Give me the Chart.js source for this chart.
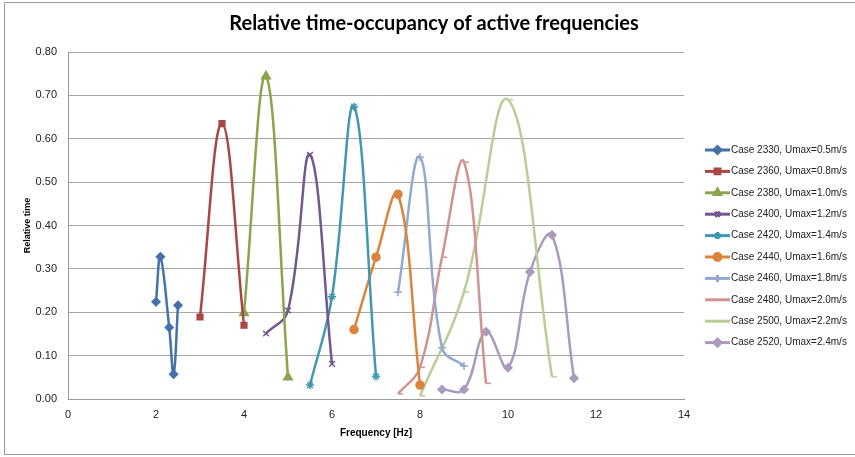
<!DOCTYPE html>
<html>
<head>
<meta charset="utf-8">
<script src="https://cdn.jsdelivr.net/npm/chart.js@4"></script>
<style>
  html, body { margin: 0; padding: 0; background: #fff; }
  #wrap { width: 855px; height: 457px; position: relative; }
</style>
</head>
<body>
<div id="wrap"><canvas id="chart" width="855" height="457"></canvas></div>
<script>
const chartTitle = "Relative time-occupancy of active frequencies";

// series labels, colours and markers
const caseLabels = [
  "Case 2330, Umax=0.5m/s", "Case 2360, Umax=0.8m/s", "Case 2380, Umax=1.0m/s",
  "Case 2400, Umax=1.2m/s", "Case 2420, Umax=1.4m/s", "Case 2440, Umax=1.6m/s",
  "Case 2460, Umax=1.8m/s", "Case 2480, Umax=2.0m/s", "Case 2500, Umax=2.2m/s",
  "Case 2520, Umax=2.4m/s"
];
const caseColors = ["#4572A7", "#AA4643", "#89A54E", "#71588F", "#4198AF",
  "#DB843D", "#93A9CF", "#D19392", "#B9CD96", "#A99BBD"];
const caseMarkers = ["rectRot", "rect", "triangle", "crossRot", "star",
  "circle", "cross", "dash", "dash", "rectRot"];

// frequency [Hz] and relative time for each case
const freq2330 = [2.0, 2.1, 2.3, 2.4, 2.5];
const time2330 = [0.224, 0.328, 0.165, 0.057, 0.216];
const freq2360 = [3.0, 3.5, 4.0];
const time2360 = [0.189, 0.635, 0.170];
const freq2380 = [4.0, 4.5, 5.0];
const time2380 = [0.198, 0.744, 0.050];
const freq2400 = [4.5, 5.0, 5.5, 6.0];
const time2400 = [0.151, 0.204, 0.563, 0.081];
const freq2420 = [5.5, 6.0, 6.5, 7.0];
const time2420 = [0.032, 0.236, 0.674, 0.052];
const freq2440 = [6.5, 7.0, 7.5, 8.0];
const time2440 = [0.160, 0.327, 0.472, 0.032];
const freq2460 = [7.5, 8.0, 8.5, 9.0];
const time2460 = [0.246, 0.558, 0.118, 0.076];
const freq2480 = [7.5, 8.0, 8.5, 9.0, 9.5];
const time2480 = [0.012, 0.073, 0.327, 0.546, 0.036];
const freq2500 = [8.0, 9.0, 10.0, 11.0];
const time2500 = [0.007, 0.247, 0.690, 0.051];
const freq2520 = [8.5, 9.0, 9.5, 10.0, 10.5, 11.0, 11.5];
const time2520 = [0.022, 0.022, 0.155, 0.072, 0.293, 0.378, 0.048];

const allFreq = [freq2330, freq2360, freq2380, freq2400, freq2420, freq2440, freq2460, freq2480, freq2500, freq2520];
const allTime = [time2330, time2360, time2380, time2400, time2420, time2440, time2460, time2480, time2500, time2520];

const markerSize = [4, 4, 5, 4, 4, 4, 4, 5, 5, 4];

const datasets = caseLabels.map((label, i) => ({
  label: label,
  data: allFreq[i].map((f, j) => ({ x: f, y: allTime[i][j] })),
  borderColor: caseColors[i],
  backgroundColor: caseColors[i],
  borderWidth: 2.5,
  pointStyle: caseMarkers[i],
  pointRadius: markerSize[i],
  pointBorderWidth: 1.5,
  showLine: true,
  tension: 0.4,
  fill: false,
}));

// draws the outer frame, the title and the Excel-like legend (line + marker)
const excelLegend = {
  id: "excelLegend",
  beforeDraw(chart) {
    const ctx = chart.ctx;
    ctx.save();
    ctx.fillStyle = "#fff";
    ctx.fillRect(0, 0, chart.width, chart.height);
    ctx.strokeStyle = "#9a9a9a";
    ctx.lineWidth = 1;
    ctx.strokeRect(4.5, 2.5, 880, 452);
    ctx.restore();
  },
  afterDraw(chart) {
    const ctx = chart.ctx;
    ctx.save();
    ctx.fillStyle = "#000";
    ctx.font = "bold 20px Lato";
    ctx.textAlign = "center";
    ctx.textBaseline = "middle";
    ctx.fillText(chartTitle, 434, 24);

    ctx.textAlign = "left";
    ctx.font = "10px 'Liberation Sans'";
    caseLabels.forEach((label, i) => {
      const y = 150 + i * 21.4;
      ctx.strokeStyle = caseColors[i];
      ctx.lineWidth = 3;
      ctx.beginPath();
      ctx.moveTo(705, y);
      ctx.lineTo(730, y);
      ctx.stroke();
      if (caseMarkers[i] !== "dash") {
        Chart.helpers.drawPoint(ctx, {
          pointStyle: caseMarkers[i], radius: 3.5, rotation: 0, borderWidth: 1
        }, 717.5, y);
        ctx.fillStyle = caseColors[i];
        ctx.fill();
      }
      ctx.fillStyle = "#222";
      ctx.fillText(label, 731, y);
    });
    ctx.restore();
  }
};

new Chart(document.getElementById("chart"), {
  type: "scatter",
  data: { datasets: datasets },
  plugins: [excelLegend],
  options: {
    responsive: false,
    animation: false,
    layout: { padding: { left: 0, right: 171, top: 52, bottom: 0 } },
    plugins: {
      legend: { display: false },
      tooltip: { enabled: false },
      title: { display: false },
    },
    scales: {
      x: {
        type: "linear",
        min: 0,
        max: 14,
        ticks: { stepSize: 2, padding: 9, color: "#222", font: { family: "Liberation Sans", size: 11 } },
        grid: { display: false, drawTicks: false },
        border: { color: "#9a9a9a", width: 1 },
        title: {
          display: true,
          text: "Frequency [Hz]",
          color: "#000",
          font: { family: "Liberation Sans", size: 10, weight: "bold" },
          padding: { bottom: 18 },
        },
        afterFit(scale) { scale.height = 58; },
      },
      y: {
        min: 0,
        max: 0.8,
        ticks: {
          stepSize: 0.1,
          padding: 11,
          color: "#222",
          font: { family: "Liberation Sans", size: 11 },
          callback: (v) => v.toFixed(2),
        },
        grid: { color: "#a6a6a6", drawTicks: false },
        border: { color: "#9a9a9a", width: 1 },
        title: {
          display: true,
          text: "Relative time",
          color: "#000",
          font: { family: "Liberation Sans", size: 9, weight: "bold" },
          padding: { top: 22 },
        },
        afterFit(scale) { scale.width = 68; },
      },
    },
  },
});
</script>
</body>
</html>
